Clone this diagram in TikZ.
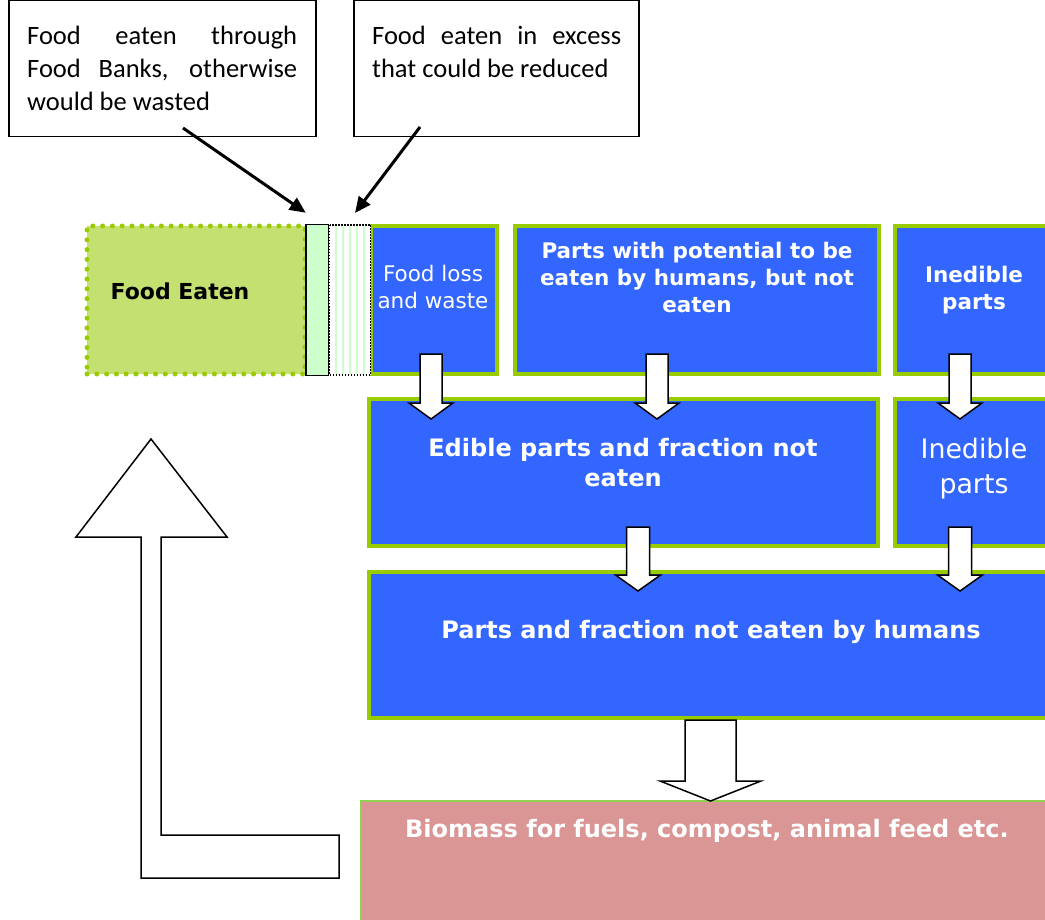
\documentclass[tikz,border=0pt]{standalone}
\usepackage{fontspec}
\setmainfont{DejaVu Sans}
\newfontfamily\calibri{Carlito}
\usetikzlibrary{arrows.meta, positioning, calc}

\definecolor{stageblue}{HTML}{3366FF}
\definecolor{stagegreen}{HTML}{99CC00}
\definecolor{eatengreen}{HTML}{C4E070}
\definecolor{bankgreen}{HTML}{CCFFCC}
\definecolor{biomassred}{HTML}{D99694}
\definecolor{biomassline}{HTML}{92D050}

\tikzset{
  stage/.style={fill=stageblue, draw=stagegreen, line width=4.5pt, inner sep=0pt, outer sep=0pt, anchor=north west},
  stagetxt/.style={text=white, align=center, inner sep=0pt},
  callbox/.style={draw=black, line width=1.5pt, inner sep=0pt, outer sep=0pt, anchor=north west},
  calltxt/.style={font=\calibri\fontsize{26.5}{33}\selectfont, align=justify, inner sep=0pt, anchor=north west},
  pointer/.style={line width=3pt, -{Triangle[length=16pt,width=14pt]}},
  blockarr/.style={fill=white, draw=black, line width=1.5pt, line join=miter},
}

% hollow block arrow pointing down: tail, tip, shaft half width, head half width, head length
\newcommand{\blockdown}[5]{%
  \draw[blockarr] let \p1=(#1), \p2=(#2) in
    (\x1-#3,\y1) -- (\x1+#3,\y1) -- (\x1+#3,\y2+#5) -- (\x1+#4,\y2+#5)
    -- (\x2,\y2) -- (\x1-#4,\y2+#5) -- (\x1-#3,\y2+#5) -- cycle;}

\begin{document}
\begin{tikzpicture}[x=1pt, y=-1pt]
  \useasboundingbox (0,0) rectangle (1045,920);

  % Callouts on top
  \node[callbox, minimum width=307pt, minimum height=136pt] (banks) at (8.75,0.75) {};
  \node[calltxt, text width=270pt, below right=25pt and 18.25pt of banks.north west] (bankstxt)
    {Food eaten through\linebreak Food Banks, otherwise\linebreak would be wasted};
  \node[callbox, minimum width=285pt, minimum height=136pt] (excess) at (353.75,0.75) {};
  \node[calltxt, text width=249pt, below right=25pt and 18.25pt of excess.north west] (excesstxt)
    {Food eaten in excess\linebreak that could be reduced};

  % Food eaten and the two thin bars
  \node[fill=eatengreen, draw=stagegreen, line width=5pt, dash pattern=on 0pt off 9.8pt, line cap=round,
        inner sep=0pt, outer sep=0pt, anchor=north west, minimum width=218pt, minimum height=148pt] (eaten) at (87,226) {};
  \node[font=\bfseries\fontsize{22}{26}\selectfont, inner sep=0pt] (eatentxt) at (180,291) {Food Eaten};

  % Stages
  \node[stage, minimum width=126pt, minimum height=148pt] (loss) at (371,226) {};
  \node[stage, minimum width=364pt, minimum height=148pt] (potential) at (515,226) {};
  \node[stage, minimum width=165pt, minimum height=148pt] (inedtop) at (895,226) {};
  \node[stage, minimum width=509pt, minimum height=147pt] (edible) at (369,399) {};
  \node[stage, minimum width=165pt, minimum height=147pt] (inedmid) at (895,399) {};
  \node[stage, minimum width=700pt, minimum height=146pt] (humans) at (369,572) {};
  \node[fill=biomassred, draw=biomassline, line width=1.5pt, inner sep=0pt, outer sep=0pt, anchor=north west,
        minimum width=700pt, minimum height=130pt] (biomass) at (360.75,800.75) {};

  \node[fill=bankgreen, draw=black, line width=1.5pt, inner sep=0pt, outer sep=0pt, anchor=north west,
        minimum width=22.5pt, minimum height=150.5pt] (bank) at (305.75,224.75) {};
  \node[fill=white, inner sep=0pt, outer sep=0pt, anchor=north west,
        minimum width=41pt, minimum height=150pt] (reduce) at (329.5,225) {};
  \foreach \sx in {336,343,350,357,364}
    \draw[bankgreen, line width=2pt] (\sx,226) -- (\sx,374);
  \draw[black, line width=1.5pt, dash pattern=on 1.5pt off 1.5pt] (reduce.north west) rectangle (reduce.south east);

  % Texts
  \node[stagetxt, font=\fontsize{21.5}{27}\selectfont] (losstxt) at (433,287) {Food loss\\and waste};
  \node[stagetxt, font=\bfseries\fontsize{21.5}{27}\selectfont] (potentialtxt) at (697,277)
    {Parts with potential to be\\eaten by humans, but not\\eaten};
  \node[stagetxt, font=\bfseries\fontsize{21.5}{27}\selectfont] (inedtoptxt) at (974,290) {Inedible\\parts};
  \node[stagetxt, font=\bfseries\fontsize{24}{30}\selectfont] (edibletxt) at (623,463)
    {Edible parts and fraction not\\eaten};
  \node[stagetxt, font=\fontsize{26.8}{35}\selectfont] (inedmidtxt) at (974,469) {Inedible\\parts};
  \node[stagetxt, font=\bfseries\fontsize{24}{30}\selectfont] (humanstxt) at (711,632)
    {Parts and fraction not eaten by humans};
  \node[stagetxt, font=\bfseries\fontsize{24}{30}\selectfont] (biomasstxt) at (707,831)
    {Biomass for fuels, compost, animal feed etc.};

  % Pointers from the callouts
  \coordinate (bankstail) at (183,128);
  \coordinate (excesstail) at (420,127);
  \draw[pointer] (bankstail) -- ([yshift=12pt]bank.north west);
  \draw[pointer] (excesstail) -- ([shift={(5pt,12pt)}]reduce.north);

  % Block arrows between stages
  \coordinate (a1) at (431,354);  \coordinate (b1) at (431,419);
  \coordinate (a2) at (657,354);  \coordinate (b2) at (657,419);
  \coordinate (a3) at (960,354);  \coordinate (b3) at (960,419);
  \coordinate (a4) at (638,527);  \coordinate (b4) at (638,591);
  \coordinate (a5) at (960,527);  \coordinate (b5) at (960,591);
  \coordinate (a6) at (710.5,720); \coordinate (b6) at (710.5,801);
  \blockdown{a1}{b1}{11}{22}{16}
  \blockdown{a2}{b2}{11}{22}{16}
  \blockdown{a3}{b3}{11}{22}{16}
  \blockdown{a4}{b4}{11.5}{22.5}{16}
  \blockdown{a5}{b5}{11.5}{22.5}{16}
  \blockdown{a6}{b6}{25.5}{50.5}{20}

  % Return arrow back to food eaten
  \draw[blockarr] (151,439) -- (227,537) -- (161,537) -- (161,835) -- (339,835)
    -- (339,878) -- (141,878) -- (141,537) -- (76,537) -- cycle;
\end{tikzpicture}
\end{document}
